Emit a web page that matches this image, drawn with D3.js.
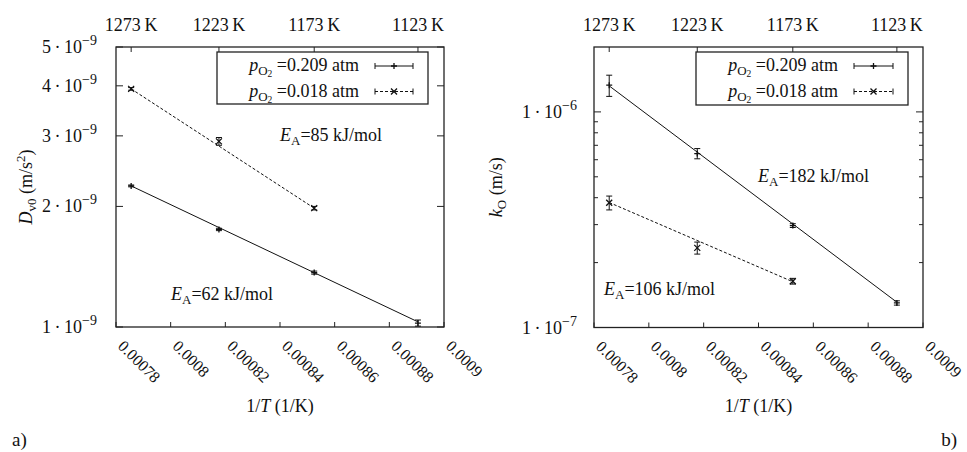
<!DOCTYPE html>
<html>
<head>
<meta charset="utf-8">
<script src="https://cdn.jsdelivr.net/npm/d3@7/dist/d3.min.js"></script>
<style>
  html, body { margin: 0; padding: 0; background: #fff; }
  svg { display: block; }
  svg text { font-family: Liberation Serif, DejaVu Serif, serif; }
</style>
</head>
<body>
<svg id="chart" width="967" height="452"></svg>
<script>
// ---------------- DATA ----------------
const temps = [1273, 1223, 1173, 1123];                 // K (top axis + point positions)
const topTickLabels = ["1273\u2009K", "1223\u2009K", "1173\u2009K", "1123\u2009K"];
const xTicks = [0.00078, 0.0008, 0.00082, 0.00084, 0.00086, 0.00088, 0.0009];
const xTickLabels = ["0.00078", "0.0008", "0.00082", "0.00084", "0.00086", "0.00088", "0.0009"];

// panel a) D_v0 (m/s^2)
const dv0High = [2.25e-9, 1.752e-9, 1.367e-9, 1.023e-9];      // pO2 = 0.209 atm
const dv0HighErr = [0.012e-9, 0.012e-9, 0.012e-9, 0.018e-9];
const dv0Low = [3.93e-9, 2.907e-9, 1.98e-9];                  // pO2 = 0.018 atm
const dv0LowErr = [0.03e-9, 0.065e-9, 0.02e-9];
const dv0HighFit = [2.25e-9, 1.03e-9];                        // fit line at first/last T
const dv0LowFit = [3.93e-9, 1.98e-9];
const dv0Ticks = [1e-9, 2e-9, 3e-9, 4e-9, 5e-9];
const dv0TickMant = ["1", "2", "3", "4", "5"];
const dv0TickExp = ["\u22129", "\u22129", "\u22129", "\u22129", "\u22129"];

// panel b) k_O (m/s)
const kHigh = [1.33e-6, 6.41e-7, 2.97e-7, 1.30e-7];
const kHighErr = [0.15e-6, 0.035e-6, 0.006e-6, 0.003e-6];
const kLow = [3.79e-7, 2.34e-7, 1.64e-7];
const kLowErr = [0.028e-6, 0.015e-6, 0.005e-6];
const kHighFit = [1.32e-6, 1.31e-7];
const kLowFit = [3.8e-7, 1.63e-7];
const kTicks = [1e-7, 1e-6];
const kTickMant = ["1", "1"];
const kTickExp = ["\u22127", "\u22126"];
const kMinorTicks = [2e-7, 3e-7, 4e-7, 5e-7, 6e-7, 7e-7, 8e-7, 9e-7];

const legendLabels = ["0.209 atm", "0.018 atm"];
const activation = { a: ["85", "62"], b: ["182", "106"] };

// ---------------- DRAW ----------------
const svg = d3.select("#chart");
const FS = 18;
const XFS = 16;

function txt(g) {
  return g.append("text").attr("fill", "#111").attr("font-size", FS);
}
function plusPath(cx, cy, r) {
  return `M${cx - r},${cy}H${cx + r}M${cx},${cy - r}V${cy + r}`;
}
function crossPath(cx, cy, r) {
  return `M${cx - r},${cy - r}L${cx + r},${cy + r}M${cx - r},${cy + r}L${cx + r},${cy - r}`;
}

function addEA(g, x, y, val) {
  const t = txt(g).attr("x", x).attr("y", y);
  t.append("tspan").attr("font-style", "italic").text("E");
  t.append("tspan").attr("font-size", 13).attr("dy", 4).text("A");
  t.append("tspan").attr("dy", -4).text("=" + val + " kJ/mol");
}

function panel(cfg) {
  const g = svg.append("g");
  const x = d3.scaleLinear().domain([0.00078, 0.0009]).range([cfg.x0, cfg.x1]);
  const y = d3.scaleLog().domain(cfg.yDomain).range([cfg.y1, cfg.y0]);
  const invT = temps.map(t => 1 / t);

  // bottom ticks (inward) + rotated labels
  xTicks.forEach((v, i) => {
    const px = x(v);
    g.append("line").attr("x1", px).attr("x2", px)
      .attr("y1", cfg.y1).attr("y2", cfg.y1 - 5)
      .attr("stroke", "#222").attr("stroke-width", 1);
    txt(g)
      .attr("transform", `translate(${px + 1},${cfg.y1 + 20}) rotate(45)`)
      .attr("font-size", XFS)
      .attr("text-anchor", "start")
      .text(xTickLabels[i]);
  });

  // top ticks (temperatures)
  temps.forEach((t, i) => {
    const px = x(1 / t);
    g.append("line").attr("x1", px).attr("x2", px)
      .attr("y1", cfg.y0).attr("y2", cfg.y0 + 5)
      .attr("stroke", "#222").attr("stroke-width", 1);
    txt(g).attr("x", px).attr("y", 31)
      .attr("text-anchor", "middle")
      .text(topTickLabels[i]);
  });

  // y ticks
  cfg.yTicks.forEach((v, i) => {
    const py = y(v);
    [[cfg.x0, cfg.x0 + 7], [cfg.x1, cfg.x1 - 7]].forEach(([a, b]) => {
      g.append("line").attr("x1", a).attr("x2", b).attr("y1", py).attr("y2", py)
        .attr("stroke", "#222").attr("stroke-width", 1);
    });
    const t = txt(g).attr("x", cfg.x0 - cfg.labelGap).attr("y", py + 6)
      .attr("text-anchor", "end");
    t.append("tspan").text(cfg.yMant[i] + "\u2009\u00b7\u200910");
    t.append("tspan").attr("font-size", 14).attr("dy", -8).text(cfg.yExp[i]);
  });
  (cfg.yMinor || []).forEach(v => {
    const py = y(v);
    [[cfg.x0, cfg.x0 + 4], [cfg.x1, cfg.x1 - 4]].forEach(([a, b]) => {
      g.append("line").attr("x1", a).attr("x2", b).attr("y1", py).attr("y2", py)
        .attr("stroke", "#222").attr("stroke-width", 1);
    });
  });

  // frame
  g.append("rect").attr("x", cfg.x0).attr("y", cfg.y0)
    .attr("width", cfg.x1 - cfg.x0).attr("height", cfg.y1 - cfg.y0)
    .attr("fill", "none").attr("stroke", "#222").attr("stroke-width", 1.3);

  // fit lines
  const fits = [
    { v: cfg.highFit, n: cfg.high.length, dash: null },
    { v: cfg.lowFit, n: cfg.low.length, dash: "3,2" }
  ];
  fits.forEach(f => {
    g.append("line")
      .attr("x1", x(invT[0])).attr("y1", y(f.v[0]))
      .attr("x2", x(invT[f.n - 1])).attr("y2", y(f.v[1]))
      .attr("stroke", "#111").attr("stroke-width", 1)
      .attr("stroke-dasharray", f.dash);
  });

  // points + error bars
  function drawSeries(vals, errs, marker) {
    vals.forEach((v, i) => {
      const px = x(invT[i]);
      const lo = y(v - errs[i]), hi = y(v + errs[i]);
      g.append("path")
        .attr("d", `M${px},${lo}V${hi}M${px - 3},${lo}H${px + 3}M${px - 3},${hi}H${px + 3}`)
        .attr("stroke", "#111").attr("stroke-width", 1).attr("fill", "none");
      g.append("path").attr("d", marker(px, y(v), 3))
        .attr("stroke", "#111").attr("stroke-width", 1.3).attr("fill", "none");
    });
  }
  drawSeries(cfg.high, cfg.highErr, plusPath);
  drawSeries(cfg.low, cfg.lowErr, crossPath);

  // legend
  const L = cfg.legend;
  g.append("rect").attr("x", L.x0).attr("y", L.y0)
    .attr("width", L.x1 - L.x0).attr("height", L.y1 - L.y0)
    .attr("fill", "#fff").attr("stroke", "#222").attr("stroke-width", 1.3);
  legendLabels.forEach((lab, i) => {
    const base = L.y0 + 19 + i * 25.5;
    const t = txt(g).attr("x", L.textX).attr("y", base)
      .attr("text-anchor", "end");
    t.append("tspan").attr("font-style", "italic").text("p");
    t.append("tspan").attr("font-size", 13).attr("dy", 4).text("O");
    t.append("tspan").attr("font-size", 9.5).attr("dy", 2).text("2");
    t.append("tspan").attr("dy", -6).text(" =" + lab);
    const sy = base - 5;
    g.append("line").attr("x1", L.sx0).attr("x2", L.sx1).attr("y1", sy).attr("y2", sy)
      .attr("stroke", "#111").attr("stroke-width", 1)
      .attr("stroke-dasharray", i === 0 ? null : "3,2");
    g.append("path")
      .attr("d", `M${L.sx0},${sy - 3}V${sy + 3}M${L.sx1},${sy - 3}V${sy + 3}`)
      .attr("stroke", "#111").attr("stroke-width", 1);
    const mx = (L.sx0 + L.sx1) / 2;
    g.append("path").attr("d", (i === 0 ? plusPath : crossPath)(mx, sy, 3))
      .attr("stroke", "#111").attr("stroke-width", 1.3).attr("fill", "none");
  });

  // activation energy labels
  addEA(g, cfg.ea1.x, cfg.ea1.y, cfg.ea1.v);
  addEA(g, cfg.ea2.x, cfg.ea2.y, cfg.ea2.v);

  // x axis title
  const xt = txt(g).attr("x", (cfg.x0 + cfg.x1) / 2).attr("y", 412)
    .attr("text-anchor", "middle");
  xt.append("tspan").text("1/");
  xt.append("tspan").attr("font-style", "italic").text("T");
  xt.append("tspan").text(" (1/K)");

  // y axis title
  cfg.yTitle(txt(g)
    .attr("transform", `translate(${cfg.yTitleX},${(cfg.y0 + cfg.y1) / 2}) rotate(-90)`)
    .attr("text-anchor", "middle"));

  // panel letter
  txt(g).attr("x", cfg.letter.x).attr("y", 446)
    .attr("font-size", FS + 1).attr("text-anchor", cfg.letter.anchor)
    .text(cfg.letter.t);
}

panel({
  x0: 116, x1: 444, y0: 47, y1: 327,
  yDomain: [1e-9, 5e-9],
  yTicks: dv0Ticks, yMant: dv0TickMant, yExp: dv0TickExp, labelGap: 19,
  high: dv0High, highErr: dv0HighErr, low: dv0Low, lowErr: dv0LowErr,
  highFit: dv0HighFit, lowFit: dv0LowFit,
  legend: { x0: 217, x1: 428, y0: 52, y1: 104, textX: 359, sx0: 375, sx1: 413 },
  ea1: { x: 280, y: 141, v: activation.a[0] },
  ea2: { x: 171, y: 300, v: activation.a[1] },
  yTitleX: 32,
  yTitle: t => {
    t.append("tspan").attr("font-style", "italic").text("D");
    t.append("tspan").attr("font-size", 13).attr("dy", 4).text("v0");
    t.append("tspan").attr("dy", -4).text(" (m/s");
    t.append("tspan").attr("font-size", 13).attr("dy", -7).text("2");
    t.append("tspan").attr("dy", 7).text(")");
  },
  letter: { x: 12, t: "a)", anchor: "start" }
});

panel({
  x0: 594, x1: 923, y0: 47, y1: 327.5,
  yDomain: [1e-7, 2e-6],
  yTicks: kTicks, yMant: kTickMant, yExp: kTickExp, labelGap: 17, yMinor: kMinorTicks,
  high: kHigh, highErr: kHighErr, low: kLow, lowErr: kLowErr,
  highFit: kHighFit, lowFit: kLowFit,
  legend: { x0: 696, x1: 908, y0: 52, y1: 105, textX: 838, sx0: 854, sx1: 893 },
  ea1: { x: 758, y: 182, v: activation.b[0] },
  ea2: { x: 604, y: 295, v: activation.b[1] },
  yTitleX: 502,
  yTitle: t => {
    t.append("tspan").attr("font-style", "italic").text("k");
    t.append("tspan").attr("font-size", 13).attr("dy", 4).text("O");
    t.append("tspan").attr("dy", -4).text(" (m/s)");
  },
  letter: { x: 957, t: "b)", anchor: "end" }
});
</script>
</body>
</html>
